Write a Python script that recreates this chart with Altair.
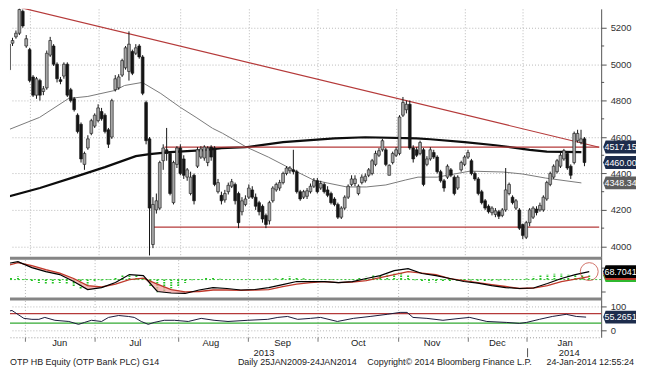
import altair as alt
import pandas as pd

FONT = "Liberation Sans"
W, H_MAIN, H_MACD, H_RSI = 594, 249, 44, 37

# ---------------- data ----------------
opens = [4970,5115,5150,5170,5290,5100,5080,4930,4830,4910,4850,4870,5050,5100,5000,4915,4935,5000,4860,4810,
         4720,4670,4450,4540,4620,4660,4690,4740,4720,4640,4600,4860,4870,4940,4980,4960,5070,5060,5100,5040,
         4790,4590,4010,4200,4210,4470,4530,4510,4240,4450,4540,4480,4380,4290,4390,4440,4490,4485,4460,4545,
         4540,4300,4280,4255,4300,4330,4340,4290,4190,4230,4270,4310,4270,4240,4220,4170,4140,4250,4310,4320,
         4350,4400,4415,4420,4410,4300,4270,4275,4300,4330,4360,4320,4340,4310,4290,4260,4230,4160,4210,4270,
         4340,4345,4290,4350,4360,4390,4400,4450,4500,4530,4530,4390,4460,4500,4510,4720,4750,4780,4540,4530,
         4510,4530,4450,4480,4515,4490,4410,4360,4380,4420,4380,4320,4420,4450,4490,4470,4400,4370,4300,4250,
         4220,4185,4175,4190,4170,4200,4290,4270,4210,4200,4120,4050,4130,4160,4205,4200,4200,4260,4340,4380,
         4410,4440,4480,4510,4440,4460,4580,4570,4590]
highs = [5130,5145,5185,5315,5300,5160,5090,4940,4930,4920,4880,5075,5150,5110,5010,4930,5010,5010,4870,4820,
         4730,4680,4520,4610,4700,4730,4780,4760,4730,4650,4810,4940,4945,5030,5100,5180,5080,5110,5110,5050,
         4800,4600,4270,4290,4470,4560,4650,4520,4470,4550,4560,4500,4430,4410,4400,4545,4550,4555,4550,4555,
         4550,4370,4300,4310,4350,4370,4350,4300,4270,4280,4340,4330,4290,4250,4230,4180,4250,4330,4350,4365,
         4410,4440,4440,4530,4420,4310,4310,4320,4345,4375,4375,4360,4350,4330,4300,4270,4240,4220,4280,4340,
         4390,4390,4340,4395,4400,4430,4480,4525,4540,4590,4540,4450,4520,4545,4720,4820,4800,4800,4555,4545,
         4580,4540,4495,4545,4530,4500,4420,4370,4450,4430,4390,4390,4470,4500,4530,4480,4410,4380,4310,4260,
         4230,4220,4210,4200,4210,4430,4350,4280,4260,4210,4125,4140,4210,4220,4220,4240,4280,4360,4410,4450,
         4480,4515,4535,4520,4450,4630,4640,4640,4600]
lows = [4950,5100,5140,5160,5200,5090,4900,4820,4810,4800,4830,4860,5040,4990,4900,4890,4920,4820,4790,4740,
        4620,4460,4420,4530,4610,4650,4680,4690,4620,4540,4590,4850,4860,4930,4970,4910,4940,5050,5030,4830,
        4560,3950,3990,4180,4200,4420,4470,4280,4230,4430,4390,4370,4360,4280,4230,4430,4480,4470,4440,4470,
        4330,4290,4230,4240,4285,4320,4230,4100,4170,4220,4260,4260,4200,4170,4130,4100,4120,4240,4300,4305,
        4340,4390,4400,4395,4290,4250,4260,4260,4290,4320,4290,4310,4290,4270,4230,4220,4150,4150,4200,4260,
        4330,4330,4280,4340,4350,4380,4390,4440,4490,4520,4440,4390,4450,4490,4500,4710,4730,4530,4460,4490,
        4500,4330,4440,4470,4480,4400,4350,4300,4370,4380,4280,4310,4410,4440,4480,4390,4360,4280,4230,4200,
        4180,4170,4160,4150,4160,4190,4280,4230,4200,4090,4040,4040,4110,4150,4170,4190,4190,4250,4330,4370,
        4400,4430,4470,4420,4370,4450,4570,4560,4440]
closes = [5110,5130,5170,5300,5210,5140,4910,4830,4920,4830,4865,5060,5130,5000,4920,4905,5000,4830,4800,4750,
          4630,4480,4510,4590,4690,4720,4760,4700,4630,4560,4800,4920,4930,5020,5090,5110,4950,5090,5040,4840,
          4580,4210,4230,4250,4460,4540,4510,4290,4460,4540,4400,4390,4420,4380,4250,4530,4535,4545,4540,4490,
          4340,4350,4250,4290,4335,4355,4250,4130,4250,4260,4320,4270,4220,4190,4150,4120,4240,4320,4340,4350,
          4400,4430,4430,4410,4300,4260,4300,4305,4330,4360,4300,4345,4300,4280,4240,4230,4160,4210,4270,4330,
          4370,4370,4330,4380,4385,4420,4470,4510,4525,4580,4450,4445,4510,4530,4710,4790,4780,4540,4480,4500,
          4570,4340,4480,4530,4490,4410,4360,4320,4440,4390,4290,4380,4460,4490,4515,4400,4370,4290,4240,4210,
          4190,4210,4195,4165,4200,4310,4340,4240,4250,4100,4060,4130,4200,4210,4185,4225,4270,4350,4400,4440,
          4470,4500,4525,4430,4390,4620,4620,4590,4460]

ma50_idx = [-0.6, 8.9, 17.4, 23, 30.9, 33.7, 38.6, 39.4, 44.3, 50, 54.6, 59.4, 62.3, 69.4, 75.7, 83, 88.9,
            92.9, 98.6, 104.3, 110, 115.7, 119.4, 125, 134.6, 144.3, 150, 156.6, 167.1]
ma50_val = [4637, 4708, 4812, 4823, 4856, 4883, 4899, 4894, 4839, 4763, 4708, 4648, 4621, 4544, 4490, 4419,
            4364, 4348, 4326, 4326, 4337, 4364, 4380, 4380, 4413, 4408, 4397, 4375, 4348.34]
ma200_idx = [-0.6, 9, 19, 28, 37, 41, 47, 57, 62, 69, 80, 95, 104, 119, 123, 133, 142, 152, 157, 167.1]
ma200_val = [4271, 4320, 4380, 4435, 4495, 4506, 4517, 4528, 4539, 4544, 4572, 4593, 4599, 4593, 4588,
             4572, 4555, 4530, 4520, 4517.15]

trend_x1 = [3.7, 45.4, 42.3]
trend_y1 = [5309, 4545, 4105]
trend_x2 = [172.3, 172.3, 172.3]
trend_y2 = [4544, 4545, 4105]

macd_idx = list(range(0, 169, 4))
macd_val = [133, 155, 103, 69, 43, -17, -86, -69, -26, 43, 34, -103, -116, -120, -90, -69, -77, -90, -86,
            -69, -43, -17, -17, -17, -26, -17, 9, 34, 77, 94, 52, 34, 9, -17, -30, -52, -69, -77, -73, -34,
            9, 43, 68.7041]
signal_val = [112, 146, 120, 86, 56, 9, -52, -64, -39, 0, 13, -39, -86, -107, -103, -90, -90, -94, -90,
              -86, -60, -39, -26, -17, -26, -21, -9, 17, 43, 69, 56, 43, 9, -9, -26, -43, -60, -77, -73,
              -52, -17, 4, 26]
hist_idx = list(range(0, 169, 2))
hist_val = [10, 20, 26, 5, -20, -30, -34, -34, -30, -40, -60, -77, -60, -20, -8, 5, 15, 35, 43, 40, 20,
            -60, -110, -100, -75, -60, -30, -5, 5, 15, 17, 8, 3, 0, 2, 3, 3, 5, 8, 12, 20, 26, 22, 12, 5,
            0, -3, -3, 0, 3, 5, 15, 25, 35, 43, 45, 50, 60, 40, -5, -20, -26, -26, -20, -15, -10, -8, -8,
            -10, -12, -10, -8, -5, -3, 0, 10, 25, 35, 45, 50, 50, 45, 40, 38, 35]

rsi_idx = [-0.57, 2.3, 3.1, 5.7, 8, 10, 11.7, 14.6, 18.6, 21.4, 23.1, 25.1, 28, 30, 32.9, 35.7, 37.4, 39.4,
           41.4, 43.1, 46, 48.9, 52.9, 56.6, 60.3, 64.3, 70, 75.7, 78.6, 81.4, 84.3, 88, 90.9, 95.7, 100.3,
           105.1, 110, 113.7, 115.7, 117.4, 121.4, 126, 130.9, 133.7, 138.6, 144.3, 148, 150, 153.7, 157.4,
           161.4, 164.3, 167.1]
rsi_val = [75, 83, 75, 50, 46, 46, 54, 42, 37, 25, 33, 42, 37, 54, 62, 58, 54, 37, 25, 33, 42, 42, 37, 50,
           42, 37, 42, 46, 54, 58, 46, 50, 54, 37, 50, 58, 67, 75, 75, 54, 50, 42, 50, 54, 37, 33, 29, 33,
           46, 58, 67, 58, 55.2651]

month_start_idx = [6, 26, 50, 70, 90, 113, 133, 150]
month_labels = ["Jun", "Jul", "Aug", "Sep", "Oct", "Nov", "Dec", "Jan"]
month_label_idx = [16, 37.7, 59.4, 80, 101.7, 122.9, 141.6, 161.1]
year_labels = ["2013", "2014"]
year_label_idx = [74.6, 162.3]
year_sep_idx = [150.3]

main_tag_pos = [4545, 4460, 4348.34]
main_tag_text = ["4517.15", "4460.00", "4348.34"]
main_tag_color = ["#1d2c4c", "#1d2c4c", "#5e5e5e"]
macd_tag_pos = [34.4, 51.5, 68.7041]
macd_tag_text = ["", "", "68.7041"]
macd_tag_color = ["#2fb82f", "#c0392b", "#000000"]
rsi_tag_pos = [55.2651]
rsi_tag_text = ["55.2651"]

footer_text = ["OTP HB Equity (OTP Bank PLC) G14", "Daily 25JAN2009-24JAN2014",
               "Copyright\u00a9 2014 Bloomberg Finance L.P.", "24-Jan-2014 12:55:24"]
footer_x = [0, 229, 359, 539]

# ---------------- frames ----------------
candles = pd.DataFrame({"idx": range(len(opens)), "open": opens, "high": highs, "low": lows, "close": closes})
ma50 = pd.DataFrame({"idx": ma50_idx, "v": ma50_val})
ma200 = pd.DataFrame({"idx": ma200_idx, "v": ma200_val})
trend = pd.DataFrame({"idx": trend_x1, "v": trend_y1, "idx2": trend_x2, "v2": trend_y2})
macd = pd.DataFrame({"idx": macd_idx, "macd": macd_val, "signal": signal_val})
hist = pd.DataFrame({"idx": hist_idx, "h": hist_val, "base": [0] * len(hist_idx)})
rsi = pd.DataFrame({"idx": rsi_idx, "v": rsi_val})
mtags = pd.DataFrame({"v": main_tag_pos, "t": main_tag_text, "c": main_tag_color})
ctags = pd.DataFrame({"v": macd_tag_pos, "t": macd_tag_text, "c": macd_tag_color})
rtags = pd.DataFrame({"v": rsi_tag_pos, "t": rsi_tag_text, "c": ["#1d2c4c"]})
months = pd.DataFrame({"idx": month_label_idx, "t": month_labels})
years = pd.DataFrame({"idx": year_label_idx, "t": year_labels})
ysep = pd.DataFrame({"idx": year_sep_idx})
footer = pd.DataFrame({"x": footer_x, "t": footer_text})

# 3.5 px per trading day, same as the reference
xscale = alt.Scale(domain=[1.714, 1.714 + W / 3.5], nice=False, zero=False)
xaxis_grid = alt.Axis(values=month_start_idx, grid=True, labels=False, ticks=False, domain=False,
                      gridDash=[1, 2], gridColor="#b8b8b8")
X = alt.X("idx:Q", scale=xscale, axis=xaxis_grid, title=None)

TAG_PATH = "M-1,0 L-0.85,-0.394 L1,-0.394 L1,0.394 L-0.85,0.394 Z"
TAG_X = W + 18.5
TAG_SIZE = 1089
TAG_FS = 9

# ---------------- main panel ----------------
yscale = alt.Scale(domain=[3943.3, 5303.8], nice=False, zero=False)
yaxis = alt.Axis(orient="right", values=[4000, 4200, 4400, 4600, 4800, 5000, 5200], format="d", grid=True,
                 gridDash=[1, 2], gridColor="#b8b8b8", tickSize=5, labelPadding=4, labelFontSize=9.5,
                 domainColor="#555555", tickColor="#555555", labelColor="#333333")
Y = lambda f: alt.Y(f, scale=yscale, axis=yaxis, title=None)

minor = pd.DataFrame({"v": [4100, 4300, 4500, 4700, 4900, 5100]})
minor_ticks = alt.Chart(minor).mark_rule(color="#555555").encode(
    x=alt.value(W), x2=alt.value(W + 3), y=Y("v:Q"))

wick = alt.Chart(candles).mark_rule(color="#151515", strokeWidth=1, clip=True).encode(
    x=X, y=Y("low:Q"), y2="high:Q")
body = alt.Chart(candles).mark_bar(size=2.8, stroke="#151515", strokeWidth=0.6, clip=True).encode(
    x=X, y=Y("open:Q"), y2="close:Q",
    fill=alt.condition("datum.close >= datum.open", alt.value("#a6a6a6"), alt.value("#151515")))
ma50_line = alt.Chart(ma50).mark_line(color="#7a7a7a", strokeWidth=1, clip=True).encode(x=X, y=Y("v:Q"))
ma200_line = alt.Chart(ma200).mark_line(color="#0d0d0d", strokeWidth=2.2, clip=True).encode(x=X, y=Y("v:Q"))
trend_lines = alt.Chart(trend).mark_rule(color="#b53a3a", strokeWidth=1.2, clip=True).encode(
    x=X, x2="idx2:Q", y=Y("v:Q"), y2="v2:Q")
mtag_box = alt.Chart(mtags).mark_point(shape=TAG_PATH, size=TAG_SIZE, filled=True, opacity=1, strokeWidth=0).encode(
    x=alt.value(TAG_X), y=Y("v:Q"), color=alt.Color("c:N", scale=None))
mtag_txt = alt.Chart(mtags).mark_text(color="white", font=FONT, fontSize=TAG_FS, align="center",
                                      baseline="middle", dx=1).encode(
    x=alt.value(TAG_X), y=Y("v:Q"), text="t:N")

main = alt.layer(minor_ticks, ma50_line, ma200_line, trend_lines, wick, body, mtag_box, mtag_txt).properties(
    width=W, height=H_MAIN)

# ---------------- MACD panel ----------------
mscale = alt.Scale(domain=[-180.4, 197.6], nice=False, zero=False)
maxis = alt.Axis(orient="right", values=[-100, 100], labels=False, grid=False, tickSize=4,
                 domainColor="#555555", tickColor="#555555")
MY = lambda f: alt.Y(f, scale=mscale, axis=maxis, title=None)

sep = pd.DataFrame({"y": [1.5, 42.5]})
seps = alt.Chart(sep).mark_rule(color="#858585", strokeWidth=3).encode(
    x=alt.value(0), x2=alt.value(W), y=alt.Y("y:Q", scale=None))
zero = pd.DataFrame({"z": [0]})
zero_line = alt.Chart(zero).mark_rule(color="#3cbf3c", strokeDash=[2, 2], strokeWidth=1).encode(y=MY("z:Q"))
hist_bars = alt.Chart(hist).mark_rule(color="#22c322", strokeWidth=2, strokeDash=[1.5, 1], clip=True).encode(
    x=X, y=MY("base:Q"), y2="h:Q")
fill = alt.Chart(macd).transform_calculate(lo="min(datum.macd, datum.signal)").mark_area(
    color="#f3a3a3", opacity=0.75, clip=True).encode(x=X, y=MY("signal:Q"), y2="lo:Q")
sig_line = alt.Chart(macd).mark_line(color="#c0392b", strokeWidth=1.3, clip=True).encode(x=X, y=MY("signal:Q"))
macd_line = alt.Chart(macd).mark_line(color="#000000", strokeWidth=1.2, clip=True).encode(x=X, y=MY("macd:Q"))
circle = alt.Chart(macd.tail(1)).mark_point(shape="circle", size=324, filled=False, color="#c0392b",
                                            strokeWidth=1).encode(x=X, y=MY("macd:Q"))
ctag_box = alt.Chart(ctags).mark_point(shape=TAG_PATH, size=TAG_SIZE, filled=True, opacity=1, strokeWidth=0).encode(
    x=alt.value(TAG_X), y=MY("v:Q"), color=alt.Color("c:N", scale=None))
ctag_txt = alt.Chart(ctags).mark_text(color="white", font=FONT, fontSize=TAG_FS, align="center",
                                      baseline="middle", dx=1).encode(
    x=alt.value(TAG_X), y=MY("v:Q"), text="t:N")

macd_panel = alt.layer(zero_line, hist_bars, fill, sig_line, macd_line, circle, seps, ctag_box, ctag_txt).properties(
    width=W, height=H_MACD)

# ---------------- RSI panel ----------------
rscale = alt.Scale(domain=[-29.2, 125], nice=False, zero=False)
raxis = alt.Axis(orient="right", values=[0, 100], format="d", grid=True, gridDash=[1, 2], gridColor="#b8b8b8",
                 tickSize=5, labelPadding=4, labelFontSize=9.5, domainColor="#555555",
                 tickColor="#555555", labelColor="#333333")
RY = lambda f: alt.Y(f, scale=rscale, axis=raxis, title=None)
xaxis_bottom = alt.Axis(values=month_start_idx, grid=True, labels=False, ticks=True, tickSize=4,
                        domain=True, domainDash=[1, 2], domainColor="#999999", tickColor="#777777",
                        gridDash=[1, 2], gridColor="#b8b8b8")
XB = alt.X("idx:Q", scale=xscale, axis=xaxis_bottom, title=None)

levels = pd.DataFrame({"v": [70, 30], "c": ["#b53a3a", "#33aa33"]})
level_lines = alt.Chart(levels).mark_rule(strokeWidth=1.2).encode(
    y=RY("v:Q"), color=alt.Color("c:N", scale=None))
rsi_line = alt.Chart(rsi).mark_line(color="#1a1a3a", strokeWidth=1, clip=True).encode(x=XB, y=RY("v:Q"))
rtag_box = alt.Chart(rtags).mark_point(shape=TAG_PATH, size=TAG_SIZE, filled=True, opacity=1, strokeWidth=0).encode(
    x=alt.value(TAG_X), y=RY("v:Q"), color=alt.Color("c:N", scale=None))
rtag_txt = alt.Chart(rtags).mark_text(color="white", font=FONT, fontSize=TAG_FS, align="center",
                                      baseline="middle", dx=1).encode(
    x=alt.value(TAG_X), y=RY("v:Q"), text="t:N")
month_txt = alt.Chart(months).mark_text(font=FONT, fontSize=9.5, color="#222222", baseline="middle").encode(
    x=XB, y=alt.value(H_RSI + 6), text="t:N")
year_txt = alt.Chart(years).mark_text(font=FONT, fontSize=9.5, color="#222222", baseline="middle").encode(
    x=XB, y=alt.value(H_RSI + 15.5), text="t:N")
year_rule = alt.Chart(ysep).mark_rule(color="#555555", strokeWidth=1).encode(
    x=XB, y=alt.value(H_RSI + 11), y2=alt.value(H_RSI + 20))
footer_txt = alt.Chart(footer).mark_text(font=FONT, fontSize=9, color="#222222", align="left",
                                         baseline="middle").encode(
    x=alt.X("x:Q", scale=None), y=alt.value(H_RSI + 25), text="t:N")

rsi_panel = alt.layer(level_lines, rsi_line, rtag_box, rtag_txt, month_txt, year_txt, year_rule,
                      footer_txt).properties(width=W, height=H_RSI)

chart = alt.vconcat(main, macd_panel, rsi_panel, spacing=0, bounds="flush").properties(
    padding=0
).configure_view(stroke=None).configure_axis(labelFont=FONT)

chart.save("out.html", embed_options={"renderer": "svg", "actions": False})
